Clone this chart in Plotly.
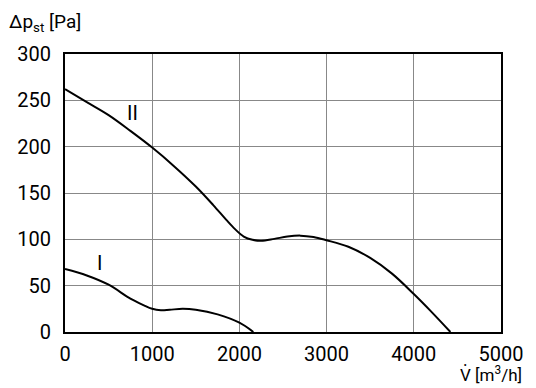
import plotly.graph_objects as go

# Curve II
x2 = [0, 250, 500, 750, 1000, 1250, 1500, 1700, 1850, 1950, 2050, 2150, 2250, 2400, 2550, 2700, 2850, 3000, 3250, 3500, 3750, 4000, 4200, 4420]
y2 = [262, 248, 234, 217, 199, 179, 157, 137, 121, 111, 103, 99.5, 98.5, 100.5, 103, 104, 102.5, 99, 92, 80, 63, 41, 22, 0]
# Curve I
x1 = [0, 250, 500, 750, 900, 1000, 1100, 1200, 1350, 1500, 1750, 2000, 2160]
y1 = [68, 61, 51, 36, 29, 25, 23.5, 24, 25, 24, 19, 10, 0]

curve_labels = ["I", "II"]
label_x = [400, 770]
label_y = [74, 236]

x_ticks = [0, 1000, 2000, 3000, 4000, 5000]
y_ticks = [0, 50, 100, 150, 200, 250, 300]

FONT = "Roboto, Liberation Sans, sans-serif"

fig = go.Figure()
for xs, ys in [(x1, y1), (x2, y2)]:
    fig.add_trace(go.Scatter(x=xs, y=ys, mode="lines",
                             line=dict(color="black", width=2, shape="spline", smoothing=1.0),
                             showlegend=False, hoverinfo="skip"))

for t, lx, ly in zip(curve_labels, label_x, label_y):
    fig.add_annotation(x=lx, y=ly, text=t, showarrow=False,
                       font=dict(family=FONT, size=20, color="black"))

fig.add_annotation(xref="paper", yref="paper", x=-0.133, y=1.0, yshift=32,
                   xanchor="left", yanchor="middle",
                   text="Δp<sub>st</sub> [Pa]", showarrow=False,
                   font=dict(family=FONT, size=19, color="black"))
fig.add_annotation(xref="paper", yref="paper", x=0.9037, y=0, yshift=-42,
                   xanchor="left", yanchor="middle", borderpad=0,
                   text="V [m<sup>3</sup>/h]", showarrow=False,
                   font=dict(family=FONT, size=17, color="black"))
fig.add_annotation(xref="paper", yref="paper", x=0.9165, y=0, yshift=-38,
                   xanchor="center", yanchor="middle", borderpad=0,
                   text="˙", showarrow=False,
                   font=dict(family=FONT, size=18, color="black"))

fig.update_layout(
    width=536, height=388,
    margin=dict(l=65, r=35, t=54, b=56),
    paper_bgcolor="white", plot_bgcolor="white",
    font=dict(family=FONT, size=20, color="black"),
    xaxis=dict(range=[0, 5000], tickvals=x_ticks, showgrid=True, gridcolor="#888888", gridwidth=1,
               showline=True, linecolor="black", linewidth=2, mirror=True, zeroline=False,
               ticks="", ticklabelstandoff=3),
    yaxis=dict(range=[0, 300], tickvals=y_ticks, showgrid=True, gridcolor="#888888", gridwidth=1,
               showline=True, linecolor="black", linewidth=2, mirror=True, zeroline=False,
               ticks="", ticklabelstandoff=8),
)

fig.write_html("out.html")
